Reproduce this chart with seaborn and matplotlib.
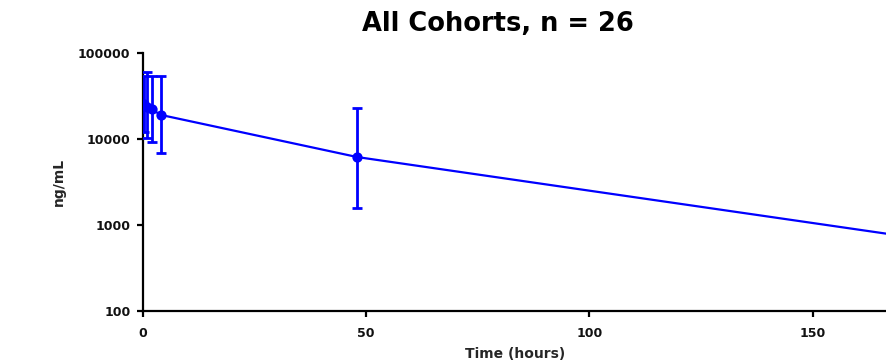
import numpy as np
import pandas as pd
import matplotlib
matplotlib.use("Agg")
import matplotlib.pyplot as plt
from matplotlib.ticker import FixedLocator, FixedFormatter, NullLocator
import seaborn as sns

# mean concentration over time (geometric mean with spread)
time_h = [0.25, 1, 2, 4, 48, 168]
conc = [25200, 23500, 22100, 18970, 6140, 770]
conc_low = [12150, 10200, 9060, 6930, 1590, 200]
conc_high = [54100, 59300, 54100, 54100, 22700, 3000]

y_ticks = [100, 1000, 10000, 100000]
x_ticks = [0, 50, 100, 150]

BLUE = "#0000ff"

sns.set_theme(style="ticks")
plt.rcParams["font.family"] = ["DejaVu Sans"]

df = pd.DataFrame({"time": time_h, "conc": conc, "low": conc_low, "high": conc_high})

fig = plt.figure(figsize=(8.87, 3.63), dpi=100)
ax = fig.add_axes([142.7 / 887, (363 - 311) / 363, 1 - 142.7 / 887, (311 - 52.7) / 363])

ax.errorbar(df["time"], df["conc"],
            yerr=[df["conc"] - df["low"], df["high"] - df["conc"]],
            fmt="none", ecolor=BLUE, elinewidth=2.0, capsize=3.4, capthick=2.0, zorder=3)
sns.lineplot(data=df, x="time", y="conc", color=BLUE, linewidth=1.6, ax=ax, zorder=4)
sns.scatterplot(data=df, x="time", y="conc", color=BLUE, s=55, edgecolor=BLUE,
                linewidth=0, ax=ax, zorder=5)

ax.set_yscale("log")
ax.set_ylim(100, 100000)
ax.set_xlim(0, 166.6)
ax.yaxis.set_major_locator(FixedLocator(y_ticks))
ax.yaxis.set_major_formatter(FixedFormatter([str(v) for v in y_ticks]))
ax.yaxis.set_minor_locator(NullLocator())
ax.xaxis.set_major_locator(FixedLocator(x_ticks))
ax.xaxis.set_major_formatter(FixedFormatter([str(v) for v in x_ticks]))

for side in ["top", "right"]:
    ax.spines[side].set_visible(False)
for side in ["left", "bottom"]:
    ax.spines[side].set_linewidth(1.6)
    ax.spines[side].set_color("black")

ax.tick_params(axis="both", direction="out", length=4.3, width=1.6, color="black",
               labelsize=9, labelcolor="#111111")
ax.tick_params(axis="y", pad=4.5)
ax.tick_params(axis="x", pad=7)
for lbl in ax.get_xticklabels() + ax.get_yticklabels():
    lbl.set_fontweight("bold")

ax.set_xlabel("Time (hours)", fontsize=10, fontweight="bold", labelpad=5)
ax.set_ylabel("ng/mL", fontsize=10, fontweight="bold", labelpad=9)
ax.grid(False)

fig.text(498 / 887, (363 - 24) / 363, "All Cohorts, n = 26", ha="center", va="center",
         fontsize=18.5, fontweight="bold", color="black")

fig.savefig("out.png", dpi=100)
